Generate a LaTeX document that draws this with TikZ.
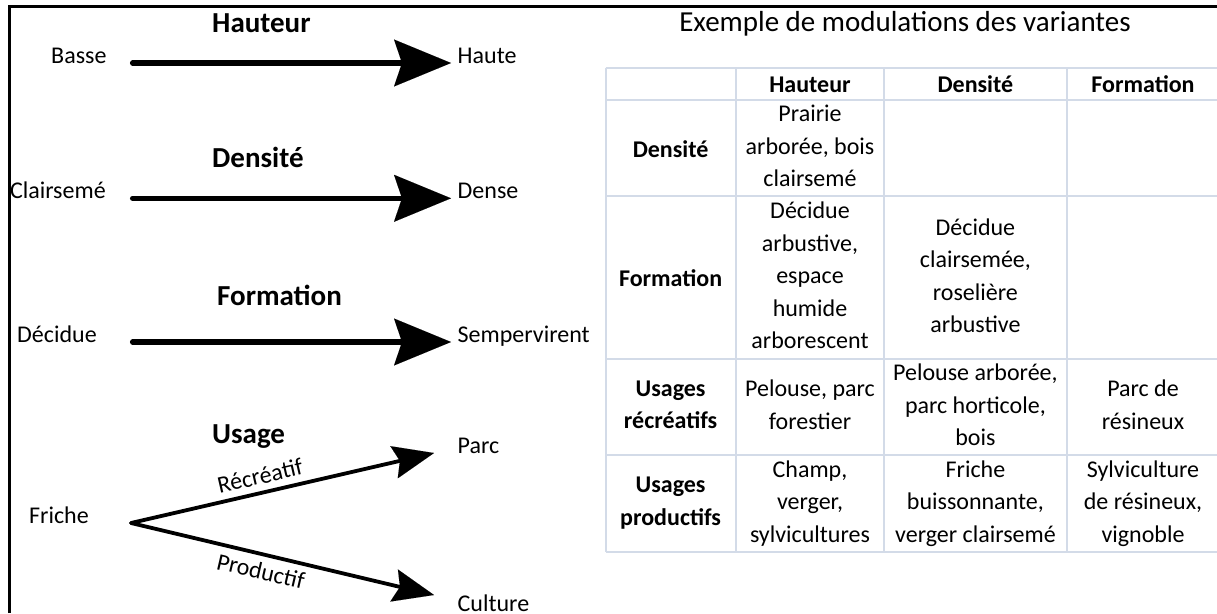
\documentclass[tikz,border=0pt]{standalone}
\usepackage{fontspec}
\setmainfont{Carlito}
\usetikzlibrary{arrows.meta}
\definecolor{gridc}{HTML}{D3DBE8}
\newcommand{\cellstrut}{\rule[-10.5pt]{0pt}{32.5pt}}
\begin{document}
\begin{tikzpicture}[x=1pt,y=-1pt,
  lab/.style={font=\fontsize{24}{29}\selectfont, inner sep=0pt, anchor=base west},
  hd/.style={font=\bfseries\fontsize{29}{35}\selectfont, inner sep=0pt, anchor=base west},
  cell/.style={font=\fontsize{24}{32.5}\selectfont, align=center, inner sep=0pt,
    execute at begin node=\cellstrut, execute at end node=\cellstrut},
  bcell/.style={cell, font=\bfseries\fontsize{24}{32.5}\selectfont},
  bigarrow/.style={line width=5.3pt, line cap=round,
    -{Stealth[length=57pt,width=47pt,inset=8pt,line width=0.01pt]}},
  smallarrow/.style={line width=3.8pt, line cap=round,
    -{Stealth[length=41pt,width=33pt,inset=6pt,line width=0.01pt]}},
  gridline/.style={draw=gridc, line width=2pt}
]
\useasboundingbox (0,0) rectangle (1217,613);
% frame
\draw[line width=2.5pt] (9.5,613) -- (9.5,6.3) -- (1217,6.3);

% ----- left part -----
\node[hd] (hHauteur) at (212,32) {Hauteur};
\node[lab] (basse) at (51,63) {Basse};
\node[lab] (haute) at (457.5,63) {Haute};
\coordinate (a1s) at (132.6,63);
\coordinate (a1e) at (451,63);
\draw[bigarrow] (a1s) -- (a1e);

\node[hd] (hDensite) at (212,167) {Densité};
\node[lab] (clair) at (9.8,198.3) {Clairsemé};
\node[lab] (dense) at (457.5,198.3) {Dense};
\coordinate (a2s) at (132.6,198.3);
\coordinate (a2e) at (451,198.3);
\draw[bigarrow] (a2s) -- (a2e);

\node[hd] (hFormation) at (217,305) {Formation};
\node[lab] (decidue) at (17,342) {Décidue};
\node[lab] (semper) at (457.5,342) {Sempervirent};
\coordinate (a3s) at (132.6,342);
\coordinate (a3e) at (451,342);
\draw[bigarrow] (a3s) -- (a3e);

\node[hd] (hUsage) at (212,443) {Usage};
\node[lab] (friche) at (29,523) {Friche};
\node[lab] (parc) at (457.5,453) {Parc};
\node[lab] (culture) at (457.5,611.5) {Culture};
\coordinate (fork) at (131,523);
\coordinate (parcTip) at (434,453);
\coordinate (cultTip) at (434,595);
\draw[smallarrow] (fork) -- (parcTip);
\draw[smallarrow] (fork) -- (cultTip);
\node[lab, anchor=center, rotate=13] (recre) at (260,476) {Récréatif};
\node[lab, anchor=center, rotate=-13] (produ) at (261,571) {Productif};

% ----- right part: table -----
\node[font=\fontsize{29}{35}\selectfont, anchor=base, inner sep=0pt] (title) at (905,31.5) {Exemple de modulations des variantes};

\foreach \yy in {67.5,99.5,196,358.5,454.5,551.5}
  \draw[gridline] (605.5,\yy) -- (1217,\yy);
\foreach \xx in {605.5,736,884,1066.5}
  \draw[gridline] (\xx,67.5) -- (\xx,551.5);

\node[bcell] (h1) at (810,87) {Hauteur};
\node[bcell] (h2) at (975.4,87) {Densité};
\node[bcell] (h3) at (1143,87) {Formation};

\node[bcell] (r1) at (670.6,151.25) {Densité};
\node[cell] (c11) at (810,151.25) {Prairie\\arborée, bois\\clairsemé};

\node[bcell] (r2) at (670.6,280.75) {Formation};
\node[cell] (c21) at (810,280.75) {Décidue\\arbustive,\\espace\\humide\\arborescent};
\node[cell] (c22) at (975.4,280.75) {Décidue\\clairsemée,\\roselière\\arbustive};

\node[bcell] (r3) at (670.6,410) {Usages\\récréatifs};
\node[cell] (c31) at (810,410) {Pelouse, parc\\forestier};
\node[cell] (c32) at (975.4,410) {Pelouse arborée,\\parc horticole,\\bois};
\node[cell] (c33) at (1143,410) {Parc de\\résineux};

\node[bcell] (r4) at (670.6,506.5) {Usages\\productifs};
\node[cell] (c41) at (810,506.5) {Champ,\\verger,\\sylvicultures};
\node[cell] (c42) at (975.4,506.5) {Friche\\buissonnante,\\verger clairsemé};
\node[cell] (c43) at (1143,506.5) {Sylviculture\\de résineux,\\vignoble};
\end{tikzpicture}
\end{document}
